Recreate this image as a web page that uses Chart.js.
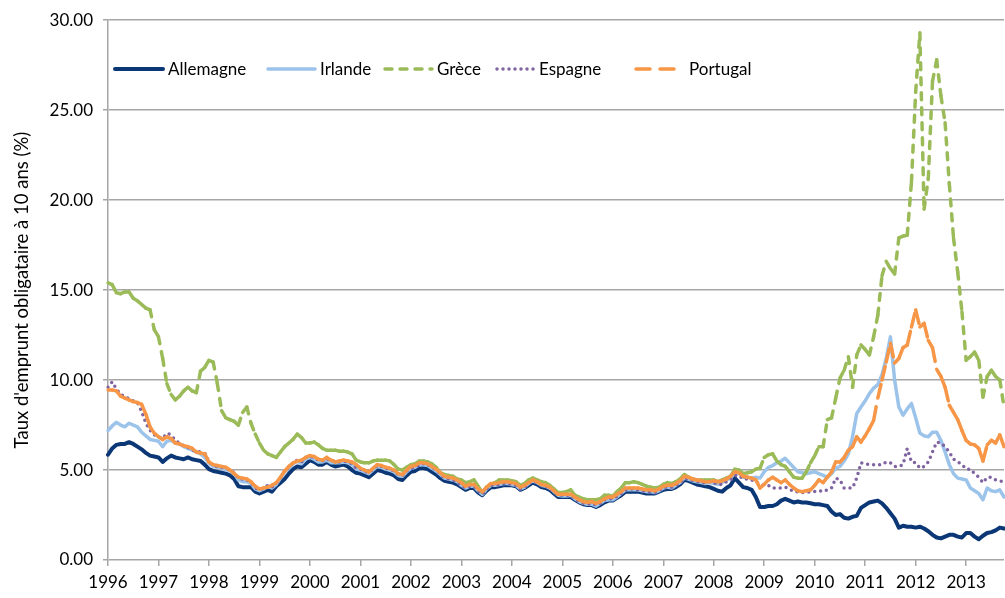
<!DOCTYPE html>
<html>
<head>
  <meta charset="utf-8">
  <title>Taux d'emprunt à 10 ans</title>
  <script src="https://cdn.jsdelivr.net/npm/chart.js"></script>
  <style>body{margin:0;background:#fff;}canvas{display:block;}</style>
</head>
<body>
  <canvas id="chart" width="1005" height="598"></canvas>
  <script>
    // monthly data, Jan 1996 .. Oct 2013
    const years = [1996,1997,1998,1999,2000,2001,2002,2003,2004,2005,2006,2007,2008,2009,2010,2011,2012,2013];
    const lastMonth = 10;
    const yTicks = [0, 5, 10, 15, 20, 25, 30];

    const allemagne = [
      5.85,6.2,6.4,6.45,6.45,6.55,6.45,6.3,6.15,5.95,5.8,5.75,
      5.7,5.45,5.65,5.8,5.7,5.65,5.6,5.7,5.6,5.55,5.5,5.3,
      5.05,4.95,4.9,4.85,4.8,4.7,4.5,4.1,4.05,4.05,4.05,3.8,
      3.7,3.8,3.9,3.8,4.1,4.3,4.5,4.8,5.05,5.2,5.15,5.35,
      5.55,5.45,5.3,5.3,5.45,5.3,5.2,5.25,5.3,5.2,5.0,4.85,
      4.8,4.7,4.6,4.8,5.0,4.95,4.85,4.8,4.7,4.5,4.45,4.7,
      4.9,4.95,5.1,5.1,5.05,4.9,4.75,4.55,4.4,4.35,4.3,4.2,
      4.05,3.9,4.0,4.0,3.75,3.6,3.85,4.05,4.05,4.1,4.15,4.15,
      4.15,4.1,3.9,4.0,4.15,4.3,4.2,4.05,4.0,3.9,3.7,3.5,
      3.5,3.5,3.5,3.35,3.2,3.1,3.05,3.05,2.95,3.05,3.2,3.3,
      3.3,3.45,3.6,3.8,3.8,3.8,3.8,3.75,3.7,3.7,3.7,3.8,
      3.9,3.95,3.95,4.05,4.2,4.45,4.4,4.3,4.2,4.15,4.1,4.05,
      3.95,3.85,3.8,4.0,4.15,4.55,4.3,4.05,4.0,3.9,3.5,2.95,
      2.95,3.0,3.0,3.1,3.3,3.4,3.3,3.2,3.25,3.2,3.2,3.15,
      3.1,3.1,3.05,3.0,2.7,2.5,2.55,2.35,2.3,2.4,2.45,2.9,
      3.05,3.2,3.25,3.3,3.15,2.9,2.6,2.3,1.8,1.9,1.85,1.85,
      1.8,1.85,1.75,1.6,1.4,1.25,1.2,1.3,1.4,1.4,1.3,1.25,
      1.5,1.5,1.3,1.15,1.35,1.5,1.55,1.65,1.8,1.75
    ];
    const irlande = [
      7.2,7.45,7.65,7.5,7.4,7.6,7.5,7.4,7.1,6.9,6.7,6.65,
      6.6,6.3,6.6,6.65,6.5,6.45,6.3,6.2,6.1,6.0,5.9,5.7,
      5.4,5.2,5.15,5.1,5.05,4.95,4.8,4.45,4.35,4.35,4.25,3.95,
      3.85,3.95,4.1,4.0,4.2,4.55,4.9,5.1,5.35,5.5,5.35,5.6,
      5.7,5.6,5.45,5.45,5.55,5.4,5.4,5.4,5.45,5.4,5.3,5.05,
      5.0,4.9,4.8,5.0,5.2,5.15,5.05,5.0,4.9,4.7,4.65,4.9,
      5.1,5.15,5.3,5.3,5.25,5.1,4.95,4.75,4.55,4.5,4.45,4.35,
      4.15,4.0,4.1,4.1,3.85,3.65,3.95,4.15,4.15,4.2,4.25,4.25,
      4.2,4.15,3.95,4.05,4.25,4.4,4.3,4.15,4.1,4.0,3.8,3.6,
      3.55,3.55,3.6,3.4,3.25,3.15,3.1,3.1,3.0,3.15,3.3,3.35,
      3.35,3.5,3.7,3.9,3.9,3.9,3.9,3.85,3.8,3.8,3.75,3.85,
      4.0,4.05,4.0,4.15,4.3,4.55,4.5,4.4,4.35,4.3,4.25,4.3,
      4.25,4.2,4.3,4.45,4.55,4.85,4.8,4.6,4.6,4.55,4.6,4.55,
      4.9,5.15,5.25,5.4,5.5,5.65,5.4,5.15,4.9,4.85,4.8,4.85,
      4.9,4.8,4.7,4.6,4.8,5.1,5.2,5.5,5.9,6.85,8.15,8.5,
      8.85,9.25,9.55,9.75,10.3,11.2,12.4,10.0,8.5,8.05,8.4,8.7,
      7.9,7.05,6.9,6.85,7.1,7.1,6.65,6.0,5.3,4.8,4.55,4.5,
      4.45,4.0,3.85,3.7,3.35,4.0,3.85,3.8,3.9,3.5
    ];
    const grece = [
      15.4,15.3,14.85,14.8,14.9,14.9,14.55,14.4,14.2,14.0,13.9,12.8,
      12.4,11.2,9.8,9.2,8.9,9.1,9.4,9.6,9.4,9.3,10.5,10.7,
      11.1,11.0,9.8,8.3,7.9,7.8,7.7,7.5,8.2,8.5,7.6,7.0,
      6.5,6.1,5.9,5.8,5.7,6.0,6.3,6.5,6.7,7.0,6.8,6.5,
      6.5,6.55,6.4,6.2,6.1,6.1,6.1,6.05,6.05,6.0,5.9,5.55,
      5.45,5.4,5.4,5.5,5.55,5.55,5.55,5.5,5.3,5.05,5.0,5.15,
      5.3,5.35,5.5,5.5,5.45,5.35,5.15,4.85,4.75,4.7,4.65,4.5,
      4.45,4.3,4.35,4.45,4.1,3.75,4.05,4.2,4.3,4.45,4.45,4.45,
      4.4,4.35,4.15,4.25,4.45,4.55,4.45,4.35,4.3,4.15,3.95,3.75,
      3.75,3.8,3.9,3.6,3.5,3.4,3.35,3.35,3.35,3.4,3.6,3.6,
      3.55,3.8,4.0,4.3,4.3,4.35,4.3,4.2,4.1,4.05,4.0,4.05,
      4.2,4.3,4.25,4.35,4.5,4.75,4.6,4.5,4.45,4.45,4.45,4.45,
      4.45,4.35,4.45,4.55,4.65,5.05,5.0,4.8,4.85,4.9,5.05,5.1,
      5.7,5.85,5.9,5.5,5.3,5.2,4.9,4.6,4.55,4.55,4.9,5.4,
      5.8,6.3,6.3,7.8,7.9,9.0,10.1,10.55,11.3,9.6,11.4,11.95,
      11.7,11.4,12.4,13.6,15.8,16.6,16.2,15.9,17.9,18.0,18.05,21.0,
      26.0,29.3,19.5,21.2,26.6,27.8,25.8,24.3,20.9,17.9,16.0,13.8,
      11.1,11.3,11.55,11.1,9.05,10.2,10.55,10.2,10.0,8.5
    ];
    const espagne = [
      9.6,9.9,9.5,9.2,9.1,8.95,8.85,8.75,8.25,7.6,7.2,6.95,
      6.85,6.75,7.05,6.95,6.65,6.5,6.35,6.25,6.1,6.05,6.0,5.95,
      5.45,5.25,5.2,5.15,5.1,5.0,4.85,4.55,4.5,4.45,4.3,4.0,
      3.9,4.0,4.15,4.05,4.25,4.6,4.95,5.15,5.4,5.55,5.45,5.7,
      5.75,5.7,5.55,5.5,5.65,5.5,5.5,5.45,5.5,5.45,5.35,5.1,
      5.05,4.95,4.85,5.05,5.25,5.2,5.1,5.05,4.95,4.75,4.7,4.95,
      5.1,5.15,5.3,5.35,5.3,5.15,5.0,4.8,4.55,4.5,4.45,4.35,
      4.15,4.0,4.1,4.1,3.85,3.65,3.95,4.15,4.15,4.2,4.25,4.25,
      4.2,4.15,3.95,4.05,4.25,4.4,4.3,4.15,4.1,4.0,3.8,3.6,
      3.6,3.6,3.6,3.4,3.25,3.15,3.1,3.15,3.05,3.15,3.35,3.4,
      3.4,3.55,3.7,3.9,3.95,3.95,3.9,3.85,3.8,3.8,3.75,3.85,
      4.05,4.05,4.05,4.15,4.3,4.55,4.5,4.4,4.35,4.35,4.25,4.35,
      4.3,4.2,4.2,4.35,4.45,4.7,4.7,4.5,4.5,4.45,4.35,4.2,
      4.15,4.15,4.0,4.0,4.0,4.05,3.95,3.8,3.8,3.75,3.75,3.8,
      3.8,3.85,3.8,3.9,4.0,4.55,4.45,4.0,4.0,4.0,4.55,5.4,
      5.35,5.3,5.3,5.3,5.3,5.45,5.4,5.2,5.2,5.3,6.2,5.45,
      5.4,5.1,5.2,5.45,6.0,6.55,6.5,6.3,6.0,5.6,5.45,5.3,
      5.05,5.05,4.8,4.6,4.3,4.6,4.6,4.45,4.4,4.35
    ];
    const portugal = [
      9.45,9.45,9.4,9.1,9.0,8.9,8.8,8.75,8.65,8.1,7.4,7.05,
      6.85,6.7,6.85,6.75,6.5,6.45,6.35,6.3,6.2,6.0,5.95,5.9,
      5.45,5.3,5.25,5.2,5.15,5.0,4.8,4.6,4.55,4.5,4.35,4.1,
      3.95,4.0,4.05,4.15,4.3,4.6,4.95,5.2,5.4,5.5,5.55,5.7,
      5.8,5.75,5.6,5.55,5.7,5.55,5.45,5.5,5.55,5.5,5.45,5.3,
      5.1,5.0,4.9,5.1,5.3,5.25,5.15,5.1,5.0,4.8,4.75,5.0,
      5.2,5.25,5.4,5.4,5.35,5.2,5.05,4.85,4.65,4.6,4.55,4.45,
      4.3,4.1,4.2,4.2,3.95,3.8,4.05,4.25,4.25,4.3,4.35,4.35,
      4.3,4.25,4.05,4.15,4.3,4.45,4.35,4.2,4.15,4.05,3.85,3.65,
      3.65,3.65,3.65,3.5,3.35,3.25,3.2,3.25,3.15,3.25,3.4,3.5,
      3.5,3.65,3.8,4.0,4.0,4.0,4.0,3.95,3.9,3.9,3.85,3.95,
      4.1,4.15,4.15,4.25,4.4,4.65,4.6,4.5,4.45,4.4,4.35,4.35,
      4.4,4.35,4.4,4.5,4.65,4.9,4.85,4.65,4.6,4.55,4.45,4.0,
      4.2,4.45,4.6,4.45,4.3,4.45,4.2,4.0,3.85,3.8,3.85,3.9,
      4.15,4.45,4.3,4.6,4.9,5.45,5.45,5.7,6.1,6.3,6.85,6.55,
      6.9,7.3,7.75,9.0,10.0,11.0,12.05,10.95,11.2,11.8,11.95,12.95,
      13.9,12.95,13.15,12.2,11.8,10.6,10.2,9.6,8.6,8.2,7.8,7.2,
      6.65,6.45,6.4,6.2,5.5,6.4,6.65,6.5,6.95,6.3
    ];

    const labels = [];
    years.forEach(y => {
      for (let m = 1; m <= 12; m++) {
        if (y < years[years.length - 1] || m <= lastMonth) labels.push(y + '-' + String(m).padStart(2, '0'));
      }
    });

    const FONT = 'Lato, "Open Sans", sans-serif';
    const GRID = '#a6a6a6';

    // Excel restarts the dash pattern on each segment: split every segment
    const restartDash = { borderDashOffset: c => (c.p0DataIndex % 2) * 0.01 };

    const series = [
      { label: 'Allemagne', data: allemagne, borderColor: '#0b3776', borderWidth: 4, order: 5 },
      { label: 'Irlande', data: irlande, borderColor: '#9cc3ea', borderWidth: 3.5, order: 4 },
      { label: 'Grèce', data: grece, borderColor: '#9bbb59', borderWidth: 3.5, borderDash: [7, 8], segment: restartDash, order: 3 },
      { label: 'Espagne', data: espagne, borderColor: '#8064a2', borderWidth: 3.5, borderDash: [0, 6], order: 2 },
      { label: 'Portugal', data: portugal, borderColor: '#f79646', borderWidth: 3.5, borderDash: [14, 10], segment: restartDash, order: 1 }
    ];

    // legend drawn inside the plot, like the original
    const legendX = [115, 268, 385, 497, 636];
    const legendLen = [48, 47, 47, 37, 48];
    const insideLegend = {
      id: 'insideLegend',
      afterDraw(chart) {
        const ctx = chart.ctx;
        const y = 69;
        ctx.save();
        ctx.font = '17px ' + FONT;
        ctx.textBaseline = 'middle';
        ctx.fillStyle = '#000';
        chart.data.datasets.forEach((ds, i) => {
          const x0 = legendX[i];
          ctx.strokeStyle = ds.borderColor;
          ctx.lineWidth = ds.borderWidth;
          ctx.lineCap = 'round';
          ctx.setLineDash(ds.borderDash || []);
          ctx.beginPath();
          ctx.moveTo(x0, y);
          ctx.lineTo(x0 + legendLen[i], y);
          ctx.stroke();
          ctx.setLineDash([]);
          ctx.fillText(ds.label, x0 + legendLen[i] + 5, y + 1);
        });
        ctx.restore();
      }
    };

    new Chart(document.getElementById('chart'), {
      type: 'line',
      data: {
        labels: labels,
        datasets: series.map(s => Object.assign({
          pointRadius: 0,
          tension: 0,
          fill: false,
          borderCapStyle: 'round',
          borderJoinStyle: 'round'
        }, s))
      },
      options: {
        responsive: false,
        animation: false,
        events: [],
        layout: { padding: { top: 20, right: 1, left: 0, bottom: 0 } },
        plugins: { legend: { display: false }, tooltip: { enabled: false } },
        scales: {
          x: {
            grid: { drawOnChartArea: false, drawTicks: true, tickLength: 6, color: GRID, lineWidth: 1.5 },
            border: { display: false },
            ticks: {
              autoSkip: false, maxRotation: 0, padding: 6, color: '#000',
              font: { family: FONT, size: 17 },
              callback: (v, i) => labels[i].endsWith('-01') ? labels[i].slice(0, 4) : null
            },
            afterFit: s => { s.height = 38; }
          },
          y: {
            min: yTicks[0], max: yTicks[yTicks.length - 1],
            afterBuildTicks: s => { s.ticks = yTicks.map(v => ({ value: v })); },
            grid: { color: GRID, lineWidth: 1.5, tickLength: 5 },
            border: { color: GRID, width: 1.5 },
            ticks: { padding: 10, color: '#000', font: { family: FONT, size: 17 }, callback: v => v.toFixed(2) },
            title: {
              display: true, text: "Taux d'emprunt obligataire à 10 ans (%)",
              color: '#000', font: { family: FONT, size: 18.5 }, padding: { top: 11, bottom: 0 }
            },
            afterFit: s => { s.width = 108; }
          }
        }
      },
      plugins: [insideLegend]
    });
  </script>
</body>
</html>
